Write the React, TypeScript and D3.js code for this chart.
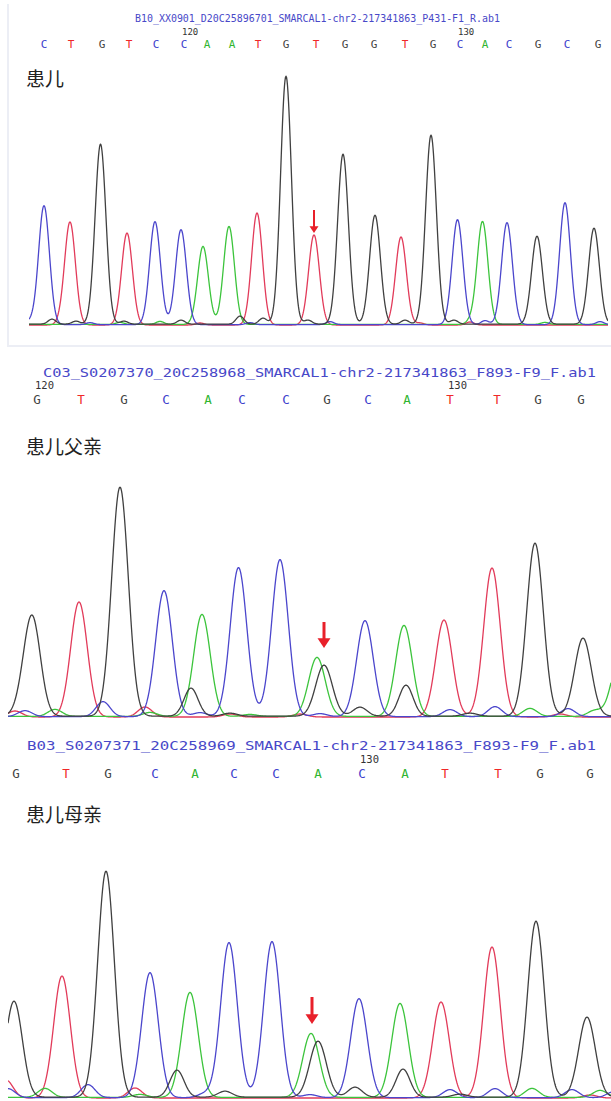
import React from "react";
import * as d3 from "d3";

const W = 611;
const H = 1101;

const traceColors: Record<string, string> = { A: "#3cc43c", C: "#4b46cc", G: "#404040", T: "#e23b5a" };
const callColors: Record<string, string> = { A: "#2fb52f", C: "#4040cc", G: "#444444", T: "#f02828" };
const channelOrder = ["T", "A", "C", "G"];
const channelOffset: Record<string, number> = { T: 0, A: 1, C: 0.6, G: 1.4 };

// ---------- Panel 1 (患儿) ----------
const p1Title = "B10_XX0901_D20C25896701_SMARCAL1-chr2-217341863_P431-F1_R.ab1";
const p1Label = "患儿";
const p1Calls = ["C", "T", "G", "T", "C", "C", "A", "A", "T", "G", "T", "G", "G", "T", "G", "C", "A", "C", "G", "C", "G"];
const p1CallPos = [44, 71, 102, 129, 156, 184, 207, 232, 258, 286, 316, 345, 374, 405, 433, 460, 485, 509, 538, 567, 598];
const p1TickLabels = ["120", "130"];
const p1TickPos = [184, 460];
const p1PeakBase = ["C", "T", "G", "T", "C", "C", "A", "A", "T", "G", "T", "G", "G", "T", "G", "C", "A", "C", "G", "C", "G"];
const p1PeakPos = [44, 70, 100.5, 127, 155, 181, 203, 229, 257, 286, 314, 343, 375, 401, 431, 457.5, 482.5, 507, 537, 565, 594];
const p1PeakHeight = [119, 103, 180, 92, 103, 95, 78, 98, 112, 248, 90, 170, 109, 88, 189, 105, 103, 102, 88, 122, 96];
const p1NoiseBase = ["G", "G", "G", "G", "G", "G", "G", "G", "G", "A", "A", "A", "A", "C", "C", "C", "C", "C", "C", "T", "T", "T", "T"];
const p1NoisePos = [52, 76, 124, 181, 240, 263, 308, 405, 454, 120, 160, 470, 545, 30, 90, 250, 330, 485, 600, 60, 200, 420, 470];
const p1NoiseHeight = [5, 3, 3, 4, 8, 6, 4, 4, 4, 2, 3, 3, 2, 3, 2, 2, 3, 4, 3, 2, 2, 2, 3];
const p1Mutation = 314;

// ---------- Panel 2 (患儿父亲) ----------
const p2Title = "C03_S0207370_20C258968_SMARCAL1-chr2-217341863_F893-F9_F.ab1";
const p2Label = "患儿父亲";
const p2Calls = ["G", "T", "G", "C", "A", "C", "C", "G", "C", "A", "T", "T", "G", "G"];
const p2CallPos = [37, 81, 124, 166, 208, 242, 286, 327, 368, 407, 450, 497, 538, 581];
const p2TickLabels = ["120", "130"];
const p2TickPos = [37, 450];
const p2PeakBase = ["G", "T", "G", "C", "A", "C", "C", "A", "G", "C", "A", "T", "T", "G", "G", "A"];
const p2PeakPos = [32, 79, 120, 164, 202, 238.5, 280, 317, 324, 365, 404, 444, 492, 535, 583, 620];
const p2PeakHeight = [100, 115, 229, 126, 102, 149, 157, 59, 51, 96, 91, 97, 149, 173, 78, 60];
const p2NoiseBase = ["A", "A", "A", "A", "A", "C", "C", "C", "C", "C", "C", "C", "G", "G", "G", "G", "G", "G", "T", "T", "T", "T", "T"];
const p2NoisePos = [55, 150, 250, 530, 595, 25, 103, 200, 320, 450, 495, 568, 20, 191, 360, 406, 230, 470, 15, 145, 230, 300, 560];
const p2NoiseHeight = [7, 4, 2, 8, 6, 6, 15, 4, 3, 7, 10, 8, 5, 28, 9, 31, 3, 3, 6, 10, 3, 3, 3];
const p2Mutation = 324;

// ---------- Panel 3 (患儿母亲) ----------
const p3Title = "B03_S0207371_20C258969_SMARCAL1-chr2-217341863_F893-F9_F.ab1";
const p3Label = "患儿母亲";
const p3Calls = ["G", "T", "G", "C", "A", "C", "C", "A", "C", "A", "T", "T", "G", "G"];
const p3CallPos = [16, 66, 108, 155, 195, 234, 276, 318, 362, 405, 445, 498, 540, 590];
const p3TickLabels = ["130"];
const p3TickPos = [362];
const p3PeakBase = ["G", "T", "G", "C", "A", "C", "C", "A", "G", "C", "A", "T", "T", "G", "G"];
const p3PeakPos = [14, 62, 106, 150, 190, 229, 272, 311, 318, 359, 400, 441, 492, 536, 587];
const p3PeakHeight = [96, 122, 226, 125, 105, 155, 156, 64, 56, 99, 94, 96, 151, 176, 80];
const p3NoiseBase = ["T", "T", "T", "C", "C", "C", "C", "C", "C", "C", "C", "A", "A", "A", "A", "G", "G", "G", "G", "G"];
const p3NoisePos = [6, 135, 590, 8, 88, 205, 310, 450, 495, 572, 614, 45, 140, 532, 600, 177, 225, 355, 403, 460];
const p3NoiseHeight = [18, 10, 3, 9, 13, 4, 3, 8, 9, 8, 6, 9, 3, 9, 7, 27, 6, 10, 28, 3];
const p3Mutation = 312;

type PanelData = {
  title: string;
  label: string;
  calls: string[];
  callPos: number[];
  tickLabels: string[];
  tickPos: number[];
  peakBase: string[];
  peakPos: number[];
  peakHeight: number[];
  noiseBase: string[];
  noisePos: number[];
  noiseHeight: number[];
  mutation: number;
};

type Layout = {
  titleX0: number;
  titleX1: number;
  titleY: number;
  titleSize: number;
  tickY: number;
  tickSize: number;
  callY: number;
  callSize: number;
  labelY: number;
  baseline: number;
  x0: number;
  x1: number;
  sigma: number;
  noiseSigma: number;
  arrowTop: number;
  arrowTip: number;
  arrowW: number;
  arrowStroke: number;
};

const panels: { data: PanelData; layout: Layout }[] = [
  {
    data: {
      title: p1Title, label: p1Label, calls: p1Calls, callPos: p1CallPos, tickLabels: p1TickLabels, tickPos: p1TickPos,
      peakBase: p1PeakBase, peakPos: p1PeakPos, peakHeight: p1PeakHeight,
      noiseBase: p1NoiseBase, noisePos: p1NoisePos, noiseHeight: p1NoiseHeight, mutation: p1Mutation,
    },
    layout: {
      titleX0: 135, titleX1: 500, titleY: 22, titleSize: 10.5, tickY: 35, tickSize: 9, callY: 47.5, callSize: 11,
      labelY: 86, baseline: 325, x0: 29, x1: 608, sigma: 5.4, noiseSigma: 4,
      arrowTop: 210, arrowTip: 233, arrowW: 9, arrowStroke: 2,
    },
  },
  {
    data: {
      title: p2Title, label: p2Label, calls: p2Calls, callPos: p2CallPos, tickLabels: p2TickLabels, tickPos: p2TickPos,
      peakBase: p2PeakBase, peakPos: p2PeakPos, peakHeight: p2PeakHeight,
      noiseBase: p2NoiseBase, noisePos: p2NoisePos, noiseHeight: p2NoiseHeight, mutation: p2Mutation,
    },
    layout: {
      titleX0: 43, titleX1: 596, titleY: 377, titleSize: 13, tickY: 389, tickSize: 10.5, callY: 404, callSize: 12.5,
      labelY: 454, baseline: 717, x0: 8, x1: 611, sigma: 8.3, noiseSigma: 7,
      arrowTop: 622, arrowTip: 648, arrowW: 13, arrowStroke: 3,
    },
  },
  {
    data: {
      title: p3Title, label: p3Label, calls: p3Calls, callPos: p3CallPos, tickLabels: p3TickLabels, tickPos: p3TickPos,
      peakBase: p3PeakBase, peakPos: p3PeakPos, peakHeight: p3PeakHeight,
      noiseBase: p3NoiseBase, noisePos: p3NoisePos, noiseHeight: p3NoiseHeight, mutation: p3Mutation,
    },
    layout: {
      titleX0: 27, titleX1: 596, titleY: 750, titleSize: 13, tickY: 763, tickSize: 10.5, callY: 778, callSize: 12.5,
      labelY: 822, baseline: 1098, x0: 8, x1: 611, sigma: 8.3, noiseSigma: 7,
      arrowTop: 997, arrowTip: 1024, arrowW: 13, arrowStroke: 3,
    },
  },
];

const monoFont = "'DejaVu Sans Mono', 'Liberation Mono', monospace";
const cjkFont = "'Noto Sans CJK SC', sans-serif";

function Panel({ data, layout, idx }: { data: PanelData; layout: Layout; idx: number }) {
  const x = d3.scaleLinear().domain([0, W]).range([0, W]);
  const y = d3.scaleLinear().domain([0, 250]).range([layout.baseline, layout.baseline - 250]);
  const samples = d3.range(layout.x0, layout.x1 + 0.01, 0.5);

  const traceValue = (ch: string, s: number) => {
    let v = channelOffset[ch] * 0.6;
    data.peakBase.forEach((b, i) => {
      if (b !== ch) return;
      const d = (s - data.peakPos[i]) / layout.sigma;
      v += data.peakHeight[i] * Math.exp(-0.5 * d * d);
    });
    data.noiseBase.forEach((b, i) => {
      if (b !== ch) return;
      const d = (s - data.noisePos[i]) / layout.noiseSigma;
      v += data.noiseHeight[i] * Math.exp(-0.5 * d * d);
    });
    return v;
  };

  const clipId = `clip-${idx}`;
  const arrowX = x(data.mutation);
  const headH = layout.arrowW * 0.75;

  return (
    <g>
      <text
        x={layout.titleX0}
        y={layout.titleY}
        fontFamily={monoFont}
        fontSize={layout.titleSize}
        fill="#4848c8"
        textLength={layout.titleX1 - layout.titleX0}
        lengthAdjust="spacingAndGlyphs"
      >
        {data.title}
      </text>
      {data.tickLabels.map((t, i) => (
        <text
          key={"t" + i}
          x={x(data.tickPos[i]) - 2}
          y={layout.tickY}
          fontFamily={monoFont}
          fontSize={layout.tickSize}
          fill="#333"
        >
          {t}
        </text>
      ))}
      {data.calls.map((c, i) => (
        <text
          key={"c" + i}
          x={x(data.callPos[i])}
          y={layout.callY}
          textAnchor="middle"
          fontFamily={monoFont}
          fontSize={layout.callSize}
          fill={callColors[c]}
        >
          {c}
        </text>
      ))}
      <text x={26} y={layout.labelY} fontFamily={cjkFont} fontSize={19} fill="#222">
        {data.label}
      </text>
      <defs>
        <clipPath id={clipId}>
          <rect x={layout.x0} y={layout.baseline - 260} width={layout.x1 - layout.x0} height={268} />
        </clipPath>
      </defs>
      <g clipPath={`url(#${clipId})`}>
        {channelOrder.map((ch) => {
          const pts: [number, number][] = samples.map((s) => [x(s), y(traceValue(ch, s))]);
          const path = d3.line().curve(d3.curveLinear)(pts) || "";
          return <path key={ch} d={path} fill="none" stroke={traceColors[ch]} strokeWidth={1.3} strokeLinejoin="round" />;
        })}
      </g>
      <line
        x1={arrowX}
        x2={arrowX}
        y1={layout.arrowTop}
        y2={layout.arrowTip - headH + 1}
        stroke="#e8202a"
        strokeWidth={layout.arrowStroke}
      />
      <path
        d={`M${arrowX - layout.arrowW / 2},${layout.arrowTip - headH} L${arrowX + layout.arrowW / 2},${layout.arrowTip - headH} L${arrowX},${layout.arrowTip} Z`}
        fill="#e8202a"
      />
    </g>
  );
}

export default function App() {
  return (
    <svg
      width={W}
      height={H}
      viewBox={`0 0 ${W} ${H}`}
      style={{ position: "absolute", top: 0, left: 0, background: "#fff" }}
    >
      <rect x={0} y={0} width={W} height={H} fill="#fff" />
      <line x1={8} x2={8} y1={4} y2={347} stroke="#eceef5" strokeWidth={2} />
      <line x1={8} x2={W} y1={346} y2={346} stroke="#eceef5" strokeWidth={2} />
      {panels.map((p, i) => (
        <Panel key={i} data={p.data} layout={p.layout} idx={i} />
      ))}
    </svg>
  );
}
